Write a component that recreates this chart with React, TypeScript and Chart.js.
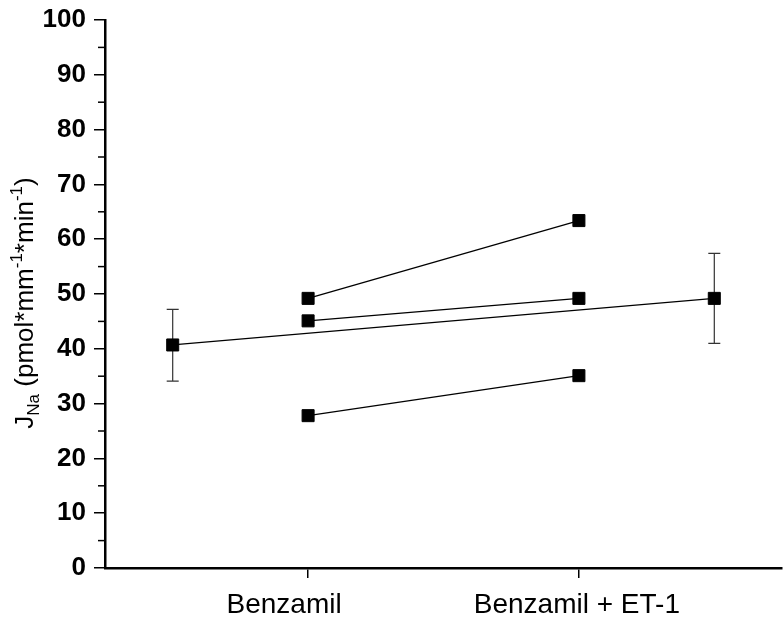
import React, { useEffect, useRef } from "react";
import { Chart, registerables } from "chart.js";

Chart.register(...registerables);

// ---- data ----
const categories = ["Benzamil", "Benzamil + ET-1"];
const categoryPositions = [1, 2];
const pair1 = [49.2, 63.4];
const pair2 = [45.1, 49.2];
const pair3 = [27.8, 35.1];
const meanPositions = [0.5, 2.5];
const meanValues = [40.7, 49.2];
const meanUpper = [47.2, 57.4];
const meanLower = [34.1, 41.0];
const yMin = 0;
const yMax = 100;
const yStep = 10;
const yMinorStep = 5;
const xMin = 0.25;
const xMax = 2.75;

const FONT = "Arial, 'Liberation Sans', Helvetica, sans-serif";
// horizontal nudges of the category labels relative to their tick (layout only)
const LABEL_NUDGE = [-24, -2];

const toPoints = (xs: number[], ys: number[]) => xs.map((x, i) => ({ x, y: ys[i] }));

const errorBarPlugin = {
  id: "errorBars",
  beforeDatasetsDraw(chart: any) {
    const { ctx, scales } = chart;
    const xs = scales.x;
    const ys = scales.y;
    ctx.save();
    ctx.strokeStyle = "#333";
    ctx.lineWidth = 1.2;
    meanPositions.forEach((p, i) => {
      const x = xs.getPixelForValue(p);
      const yt = ys.getPixelForValue(meanUpper[i]);
      const yb = ys.getPixelForValue(meanLower[i]);
      ctx.beginPath();
      ctx.moveTo(x, yt);
      ctx.lineTo(x, yb);
      ctx.moveTo(x - 6, yt);
      ctx.lineTo(x + 6, yt);
      ctx.moveTo(x - 6, yb);
      ctx.lineTo(x + 6, yb);
      ctx.stroke();
    });
    ctx.restore();
  },
};

const minorTickPlugin = {
  id: "minorTicks",
  afterDraw(chart: any) {
    const { ctx, scales, chartArea } = chart;
    const ys = scales.y;
    ctx.save();
    ctx.strokeStyle = "#000";
    ctx.lineWidth = 1.5;
    for (let v = yMin + yMinorStep; v < yMax; v += yStep) {
      const y = ys.getPixelForValue(v);
      ctx.beginPath();
      ctx.moveTo(chartArea.left - 7, y);
      ctx.lineTo(chartArea.left, y);
      ctx.stroke();
    }
    ctx.restore();
  },
};

const xLabelPlugin = {
  id: "xLabels",
  afterDraw(chart: any) {
    const { ctx, scales, chartArea } = chart;
    const xs = scales.x;
    ctx.save();
    ctx.fillStyle = "#000";
    ctx.font = `28px ${FONT}`;
    ctx.textAlign = "center";
    ctx.textBaseline = "alphabetic";
    categoryPositions.forEach((p, i) => {
      const x = xs.getPixelForValue(p) + LABEL_NUDGE[i];
      ctx.fillText(categories[i], x, chartArea.bottom + 45);
    });
    ctx.restore();
  },
};

const yTitlePlugin = {
  id: "yTitle",
  afterDraw(chart: any) {
    const { ctx } = chart;
    const segs = [
      { t: "J", size: 26, dy: 0 },
      { t: "Na", size: 17, dy: 6 },
      { t: " (pmol*mm", size: 26, dy: 0 },
      { t: "-1", size: 17, dy: -11 },
      { t: "*min", size: 26, dy: 0 },
      { t: "-1", size: 17, dy: -11 },
      { t: ")", size: 26, dy: 0 },
    ];
    ctx.save();
    ctx.fillStyle = "#000";
    ctx.textBaseline = "alphabetic";
    ctx.textAlign = "left";
    let total = 0;
    const widths = segs.map((s) => {
      ctx.font = `${s.size}px ${FONT}`;
      const w = ctx.measureText(s.t).width;
      total += w;
      return w;
    });
    ctx.translate(33, 303);
    ctx.rotate(-Math.PI / 2);
    let x = -total / 2;
    segs.forEach((s, i) => {
      ctx.font = `${s.size}px ${FONT}`;
      ctx.fillText(s.t, x, s.dy);
      x += widths[i];
    });
    ctx.restore();
  },
};

const lineDataset = (data: { x: number; y: number }[]) => ({
  data,
  showLine: true,
  borderColor: "#000",
  borderWidth: 1.3,
  backgroundColor: "#000",
  pointStyle: "rect",
  pointRadius: 8.5,
  pointHoverRadius: 8.5,
  pointBorderWidth: 1,
  pointBackgroundColor: "#000",
  pointBorderColor: "#000",
  fill: false,
  tension: 0,
  clip: false,
});

export default function App() {
  const canvasRef = useRef<HTMLCanvasElement | null>(null);

  useEffect(() => {
    if (!canvasRef.current) return;
    const chart = new Chart(canvasRef.current, {
      type: "scatter",
      data: {
        datasets: [
          lineDataset(toPoints(categoryPositions, pair1)),
          lineDataset(toPoints(categoryPositions, pair2)),
          lineDataset(toPoints(categoryPositions, pair3)),
          lineDataset(toPoints(meanPositions, meanValues)),
        ],
      } as any,
      options: {
        animation: false,
        responsive: true,
        maintainAspectRatio: false,
        layout: { autoPadding: false, padding: { top: 20, right: 1, left: 0, bottom: 0 } },
        plugins: {
          legend: { display: false },
          tooltip: { enabled: false },
          title: { display: false },
        },
        scales: {
          x: {
            type: "linear",
            min: xMin,
            max: xMax,
            afterBuildTicks: (scale: any) => {
              scale.ticks = categoryPositions.map((v) => ({ value: v }));
            },
            afterFit: (scale: any) => {
              scale.height = 53;
              scale.paddingLeft = 0;
              scale.paddingRight = 0;
            },
            ticks: {
              autoSkip: false,
              maxRotation: 0,
              color: "#000",
              padding: 8,
              font: { family: FONT, size: 28 },
              callback: () => "",
            },
            grid: {
              display: true,
              drawOnChartArea: false,
              drawTicks: true,
              tickLength: 10,
              color: "#000",
              lineWidth: 1.5,
            },
            border: { display: true, color: "#000", width: 2.5 },
          },
          y: {
            type: "linear",
            min: yMin,
            max: yMax,
            afterFit: (scale: any) => {
              scale.width = 105;
              scale.paddingTop = 0;
              scale.paddingBottom = 0;
            },
            ticks: {
              stepSize: yStep,
              color: "#000",
              padding: 8,
              font: { family: FONT, size: 26, weight: "bold" },
            },
            grid: {
              display: true,
              drawOnChartArea: false,
              drawTicks: true,
              tickLength: 11,
              color: "#000",
              lineWidth: 1.5,
            },
            border: { display: true, color: "#000", width: 2.5 },
          },
        },
      } as any,
      plugins: [errorBarPlugin, minorTickPlugin, xLabelPlugin, yTitlePlugin],
    });
    return () => chart.destroy();
  }, []);

  return (
    <div
      style={{
        position: "fixed",
        left: 0,
        top: 0,
        width: 783,
        height: 621,
        background: "#fff",
      }}
    >
      <canvas ref={canvasRef} />
    </div>
  );
}
